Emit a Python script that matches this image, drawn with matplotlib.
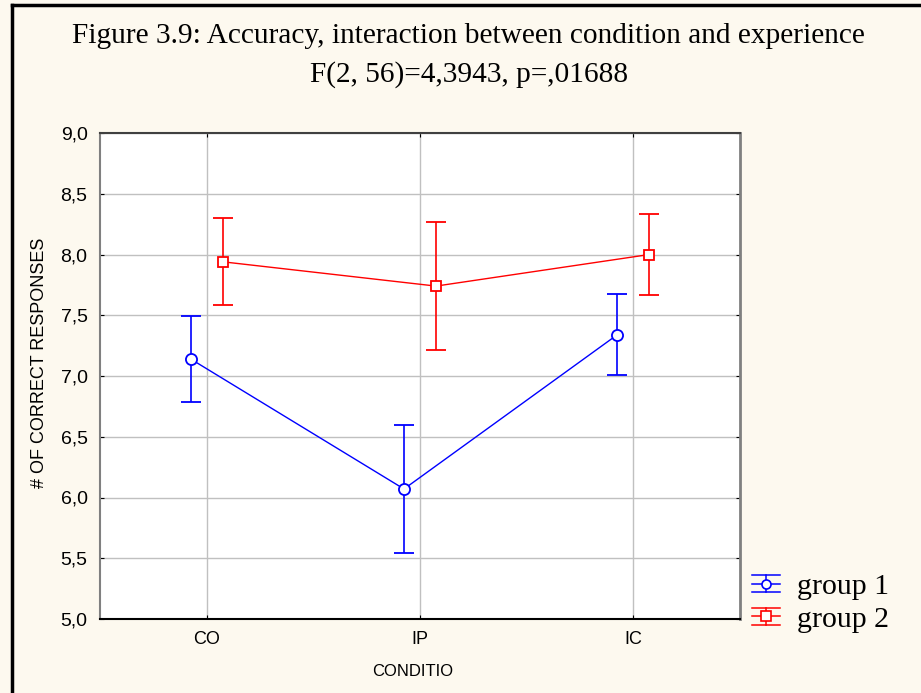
import numpy as np
import matplotlib
matplotlib.use('Agg')
import matplotlib.pyplot as plt
from matplotlib.legend_handler import HandlerBase
from matplotlib.lines import Line2D

# ── data ─────────────────────────────────────────────────────────────────────
conditions = ['CO', 'IP', 'IC']
group1_mean = [7.14, 6.07, 7.34]
group1_err = [0.355, 0.53, 0.335]
group2_mean = [7.94, 7.74, 8.00]
group2_err = [0.357, 0.53, 0.336]
series_labels = ['group 1', 'group 2']


class ErrGlyph(HandlerBase):
    """legend glyph like the original: 3 horizontal bars, a stem and the marker"""
    def __init__(self, color, marker, ms):
        super().__init__()
        self.color, self.marker, self.ms = color, marker, ms

    def create_artists(self, legend, orig_handle, xdescent, ydescent, width, height,
                       fontsize, trans):
        x0, x1 = -xdescent, width - xdescent
        cy = height / 2 - ydescent
        d = 6.2
        xm = (x0 + x1) / 2
        arts = []
        for yy in (cy - d, cy, cy + d):
            arts.append(Line2D([x0, x1], [yy, yy], color=self.color, lw=1.1))
        arts.append(Line2D([xm, xm], [cy - d, cy + d], color=self.color, lw=1.1))
        arts.append(Line2D([xm], [cy], marker=self.marker, ms=self.ms, mfc='white',
                           mec=self.color, mew=1.2, ls='none'))
        for a in arts:
            a.set_transform(trans)
        return arts


BG = '#FDF9EF'
fig = plt.figure(figsize=(9.21, 6.93), dpi=100)
fig.patch.set_facecolor(BG)

# black frame (left and top only are visible in the reference)
fig.add_artist(plt.Line2D([0.0125, 0.0125], [0, 0.9935], transform=fig.transFigure,
                          color='black', lw=2.5))
fig.add_artist(plt.Line2D([0.0125, 1.0], [0.9935, 0.9935], transform=fig.transFigure,
                          color='black', lw=2.5))

ax = fig.add_axes([100 / 921, 1 - 619 / 693, 640 / 921, 486 / 693])
ax.set_facecolor('white')

x = np.arange(len(conditions))
off = 0.075
eb1 = ax.errorbar(x - off, group1_mean, yerr=group1_err, color='#0000FF', lw=1,
                  marker='o', ms=8, mfc='white', mec='#0000FF', mew=1.3,
                  capsize=7.5, capthick=1.2, elinewidth=1.2, zorder=3)
eb2 = ax.errorbar(x + off, group2_mean, yerr=group2_err, color='#FF0000', lw=1,
                  marker='s', ms=7.5, mfc='white', mec='#FF0000', mew=1.3,
                  capsize=7.5, capthick=1.2, elinewidth=1.2, zorder=3)

ax.set_xlim(-0.5, 2.5)
ax.set_ylim(5.0, 9.0)
ax.set_xticks(x)
ax.set_xticklabels(conditions, family='Liberation Sans', fontsize=13)
yt = np.arange(5.0, 9.01, 0.5)
ax.set_yticks(yt)
ax.set_yticklabels([f'{v:.1f}'.replace('.', ',') for v in yt],
                   family='Liberation Sans', fontsize=14)
ax.grid(True, color='#C0C0C0', lw=1)
ax.set_axisbelow(True)
ax.tick_params(direction='in', length=3, top=True, right=True, pad=9, colors='black')

ax.spines['bottom'].set_color('black')
ax.spines['bottom'].set_linewidth(1.5)
ax.spines['top'].set_color('#404040')
ax.spines['top'].set_linewidth(1.5)
ax.spines['left'].set_color('#808080')
ax.spines['left'].set_linewidth(1.5)
ax.spines['right'].set_color('#808080')
ax.spines['right'].set_linewidth(2)

ax.set_ylabel('# OF CORRECT RESPONSES', family='Liberation Sans', fontsize=13)
ax.yaxis.set_label_coords(-0.081, 0.527)
ax.set_xlabel('CONDITIO', family='Liberation Sans', fontsize=12)
ax.xaxis.set_label_coords(0.489, -0.092)

fig.text(0.509, 0.948, 'Figure 3.9: Accuracy, interaction between condition and experience',
         ha='center', va='center', family='Liberation Serif', fontsize=21.2)
fig.text(0.509, 0.893, 'F(2, 56)=4,3943, p=,01688',
         ha='center', va='center', family='Liberation Serif', fontsize=21.2)

fig.legend(handles=[eb1, eb2], labels=series_labels, loc='center left',
           bbox_to_anchor=(752 / 921, 1 - 603 / 693), frameon=False,
           prop={'family': 'Liberation Serif', 'size': 21.5},
           handler_map={eb1: ErrGlyph('#0000FF', 'o', 6.5), eb2: ErrGlyph('#FF0000', 's', 7)},
           handlelength=0.93, handletextpad=0.57, labelspacing=0.18, borderpad=0,
           borderaxespad=0)

plt.savefig('out.png', dpi=100, facecolor=BG)
